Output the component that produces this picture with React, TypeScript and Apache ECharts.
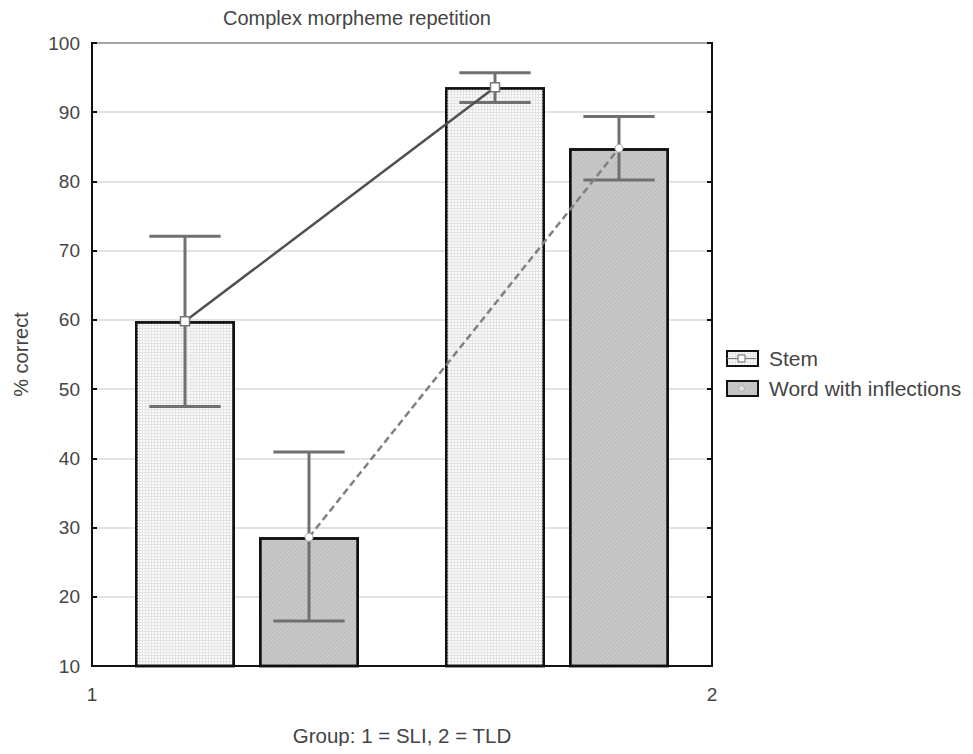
import React, { useEffect, useRef } from "react";
import * as echarts from "echarts";

const titleText = "Complex morpheme repetition";
const groups = ["SLI", "TLD"];
const xTickValues = [1, 2];
const stemMeans = [59.8, 93.6];
const stemLow = [47.5, 91.4];
const stemHigh = [72.1, 95.7];
const wordMeans = [28.6, 84.8];
const wordLow = [16.5, 80.2];
const wordHigh = [40.9, 89.4];
const seriesNames = ["Stem", "Word with inflections"];

const FONT = "'Liberation Sans', Arial, sans-serif";
const TEXT = "#444";

export default function App() {
  const ref = useRef<HTMLDivElement>(null);
  useEffect(() => {
    if (!ref.current) return;
    const chart = echarts.init(ref.current, null, { renderer: "svg" });

    // bar centre offset as a fraction of the category band
    const OFF = 0.2;
    const nCat = groups.length;
    const valX = (i: number, sign: number) =>
      xTickValues[0] + ((i + 0.5) / nCat + (sign * OFF) / nCat) * (xTickValues[1] - xTickValues[0]);

    const errSeries = (name: string, low: number[], high: number[], sign: number) => ({
      type: "custom",
      name,
      xAxisIndex: 0,
      yAxisIndex: 0,
      z: 3,
      silent: true,
      encode: { x: 0, y: [1, 2] },
      data: low.map((l, i) => [i, l, high[i]]),
      renderItem: (params: any, api: any) => {
        const c = api.value(0);
        const lo = api.coord([c, api.value(1)]);
        const hi = api.coord([c, api.value(2)]);
        const band = api.size([1, 0])[0];
        const x = lo[0] + sign * OFF * band;
        const half = band * 0.115;
        const style = { stroke: "#707070", lineWidth: 3 };
        return {
          type: "group",
          children: [
            { type: "line", shape: { x1: x, y1: lo[1], x2: x, y2: hi[1] }, style },
            { type: "line", shape: { x1: x - half, y1: lo[1], x2: x + half, y2: lo[1] }, style },
            { type: "line", shape: { x1: x - half, y1: hi[1], x2: x + half, y2: hi[1] }, style },
          ],
        };
      },
    });

    const option: any = {
      animation: false,
      aria: { enabled: true, decal: { show: true } },
      textStyle: { fontFamily: FONT },
      title: {
        text: titleText,
        left: 215,
        top: 0,
        padding: 0,
        textStyle: { fontSize: 20, fontWeight: "normal", color: TEXT, fontFamily: FONT },
      },
      legend: {
        data: seriesNames,
        orient: "vertical",
        left: 713,
        top: 335,
        itemWidth: 31,
        itemHeight: 15,
        itemGap: 9,
        icon: "rect",
        textStyle: { fontSize: 21, color: TEXT, fontFamily: FONT, padding: [0, 0, 0, 6] },
      },
      grid: {
        left: 84,
        top: 35,
        right: 253,
        bottom: 80,
        outerBoundsMode: "none",
        containLabel: false,
        show: true,
        borderColor: "#111",
        borderWidth: 2,
        backgroundColor: "transparent",
      },
      xAxis: [
        { type: "category", data: groups, show: false, position: "top" },
        {
          type: "value",
          min: xTickValues[0],
          max: xTickValues[1],
          interval: 1,
          position: "bottom",
          axisLine: { show: true, lineStyle: { color: "#111", width: 2 } },
          axisTick: { show: false },
          splitLine: { show: false },
          axisLabel: { fontSize: 19, color: TEXT, margin: 19, fontFamily: FONT },
          name: "Group: 1 = SLI, 2 = TLD",
          nameLocation: "middle",
          nameGap: 59,
          nameTextStyle: { fontSize: 20.5, color: TEXT, fontFamily: FONT },
        },
      ],
      yAxis: [
        {
          type: "value",
          min: 10,
          max: 100,
          interval: 10,
          axisLine: { show: true, lineStyle: { color: "#111", width: 2 } },
          axisTick: { show: true, inside: true, length: 5, lineStyle: { color: "#111", width: 2 } },
          axisLabel: { fontSize: 19, color: TEXT, margin: 12, fontFamily: FONT },
          splitLine: { show: true, lineStyle: { color: "#dadada", width: 1.5 } },
          name: "% correct",
          nameLocation: "middle",
          nameGap: 61,
          nameRotate: 90,
          nameTextStyle: { fontSize: 20, color: TEXT, fontFamily: FONT },
        },
        {
          type: "value",
          min: 10,
          max: 100,
          interval: 10,
          position: "right",
          axisLine: { show: true, lineStyle: { color: "#111", width: 2 } },
          axisTick: { show: true, inside: true, length: 5, lineStyle: { color: "#111", width: 2 } },
          axisLabel: { show: false },
          splitLine: { show: false },
        },
      ],
      series: [
        {
          type: "bar",
          name: seriesNames[0],
          xAxisIndex: 0,
          yAxisIndex: 0,
          data: stemMeans,
          barWidth: 100,
          barGap: "24%",
          z: 2,
          itemStyle: {
            color: "#e4e4e4",
            borderColor: "#111",
            borderWidth: 2.5,
            decal: {
              symbol: "rect",
              symbolSize: 1,
              color: "#fafafa",
              dashArrayX: [2, 1],
              dashArrayY: [2, 1],
              rotation: 0,
            },
          },
        },
        {
          type: "bar",
          name: seriesNames[1],
          xAxisIndex: 0,
          yAxisIndex: 0,
          data: wordMeans,
          barWidth: 100,
          barGap: "24%",
          z: 2,
          itemStyle: {
            color: "#c0c0c0",
            borderColor: "#111",
            borderWidth: 2.5,
            decal: {
              symbol: "rect",
              symbolSize: 1,
              color: "rgba(255,255,255,0.22)",
              dashArrayX: [1, 0],
              dashArrayY: [1, 2],
              rotation: -Math.PI / 4,
            },
          },
        },
        errSeries("stem-err", stemLow, stemHigh, -1),
        errSeries("word-err", wordLow, wordHigh, 1),
        {
          type: "line",
          name: "stem-line",
          xAxisIndex: 1,
          yAxisIndex: 0,
          z: 4,
          data: stemMeans.map((v, i) => [valX(i, -1), v]),
          lineStyle: { color: "#505050", width: 2.5 },
          symbol: "rect",
          symbolSize: 9,
          itemStyle: { color: "#fff", borderColor: "#777", borderWidth: 1.5, decal: "none" },
          silent: true,
        },
        {
          type: "line",
          name: "word-line",
          xAxisIndex: 1,
          yAxisIndex: 0,
          z: 4,
          data: wordMeans.map((v, i) => [valX(i, 1), v]),
          lineStyle: { color: "#808080", width: 2.5, type: [7, 4] },
          symbol: "circle",
          symbolSize: 8,
          itemStyle: { color: "#fff", borderColor: "#aaa", borderWidth: 1, decal: "none" },
          silent: true,
        },
      ],
      graphic: [
        {
          type: "line",
          shape: { x1: 719, y1: 350.5, x2: 748, y2: 350.5 },
          style: { stroke: "#777", lineWidth: 1 },
          z: 100,
        },
        {
          type: "rect",
          shape: { x: 730, y: 347, width: 7, height: 7 },
          style: { fill: "#fff", stroke: "#666", lineWidth: 1 },
          z: 101,
        },
        {
          type: "circle",
          shape: { cx: 733.5, cy: 380.5, r: 3 },
          style: { fill: "#e0e0e0", stroke: "#aaa", lineWidth: 1 },
          z: 101,
        },
      ],
    };
    chart.setOption(option);
    return () => chart.dispose();
  }, []);
  return <div ref={ref} style={{ width: 957, height: 738 }} />;
}
